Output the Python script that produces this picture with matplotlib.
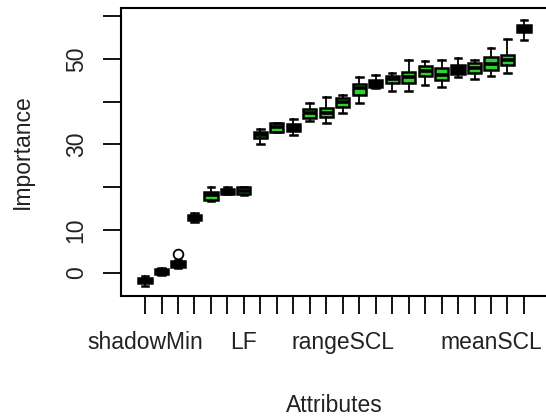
import matplotlib
matplotlib.use("Agg")
import matplotlib.pyplot as plt

# Importance distributions per attribute (sorted by median)
tick_labels = ["shadowMin", "", "", "", "", "", "LF", "", "", "", "", "",
               "rangeSCL", "", "", "", "", "", "", "", "", "meanSCL", "", ""]
q1 = [-2.5, -0.3, 1.4, 12.3, 17.0, 18.4, 18.3, 31.4, 33.0, 33.2, 36.1, 36.3,
      38.8, 41.5, 43.5, 44.3, 44.3, 46.0, 45.0, 46.4, 46.8, 47.4, 48.6, 56.2]
med = [-1.9, 0.2, 2.0, 12.9, 18.2, 18.9, 19.0, 32.2, 34.1, 34.1, 37.3, 37.4,
       40.0, 43.1, 44.4, 45.3, 45.7, 47.2, 46.2, 47.8, 47.9, 48.9, 49.7, 57.1]
q3 = [-1.3, 0.8, 2.8, 13.5, 18.9, 19.6, 20.0, 33.0, 34.9, 34.8, 38.2, 38.4,
      40.8, 44.1, 45.0, 46.0, 47.0, 48.3, 47.9, 48.6, 49.1, 50.5, 50.9, 57.9]
whislo = [-3.1, -0.5, 1.2, 11.8, 16.8, 18.3, 18.2, 30.2, 32.8, 32.3, 35.5, 34.9,
          37.4, 39.7, 43.3, 42.5, 42.5, 44.0, 43.4, 45.7, 45.4, 46.1, 46.8, 54.4]
whishi = [-0.8, 1.0, 3.0, 13.9, 20.1, 20.1, 20.1, 33.6, 35.1, 35.9, 39.7, 41.1,
          41.5, 45.8, 46.2, 46.6, 49.7, 49.5, 49.7, 50.1, 49.7, 52.5, 54.6, 59.2]
outliers = [[], [], [4.3], [], [], [], [], [], [], [], [], [],
            [], [], [], [], [], [], [], [], [], [], [], []]
fill = ["black", "black", "black", "black", "green", "black", "green", "green",
        "green", "black", "green", "green", "green", "green", "black", "green",
        "green", "green", "green", "black", "green", "green", "green", "black"]

GREEN = "#2ed12e"

plt.rcParams["font.family"] = ["Liberation Sans", "DejaVu Sans"]
fig = plt.figure(figsize=(5.46, 4.17), dpi=100)
ax = fig.add_axes([121 / 546, 1 - 296 / 417, 427 / 546, 288 / 417])

stats = []
for i in range(len(med)):
    stats.append(dict(med=med[i], q1=q1[i], q3=q3[i], whislo=whislo[i],
                      whishi=whishi[i], fliers=outliers[i]))
positions = list(range(1, len(med) + 1))
bp = ax.bxp(stats, positions=positions, widths=0.8, patch_artist=True,
            showfliers=True,
            boxprops=dict(edgecolor="black", linewidth=1.8),
            medianprops=dict(color="black", linewidth=2.6),
            whiskerprops=dict(color="black", linewidth=1.3),
            capprops=dict(color="black", linewidth=1.8),
            capwidths=0.4,
            flierprops=dict(marker="o", markerfacecolor="white",
                            markeredgecolor="black", markersize=7,
                            markeredgewidth=1.3))
for patch, c in zip(bp["boxes"], fill):
    patch.set_facecolor(GREEN if c == "green" else "black")

ax.set_xlim(-0.46, 25.46)
ax.set_ylim(-5.45, 61.9)
ax.set_xticks(positions)
ax.set_xticklabels(tick_labels, fontsize=16.5)
ax.set_yticks([0, 10, 20, 30, 40, 50, 60])
ax.set_yticklabels(["0", "10", "", "30", "", "50", ""], fontsize=16.5,
                   rotation=90, va="center")
ax.tick_params(axis="both", length=13, width=1.3, color="black",
               labelcolor="#222222")
ax.tick_params(axis="x", pad=12)
ax.tick_params(axis="y", pad=11)
for s in ax.spines.values():
    s.set_linewidth(1.5)
ax.set_xlabel("Attributes", fontsize=16.5, color="#222222", labelpad=29)
ax.set_ylabel("Importance", fontsize=16.5, color="#222222", labelpad=22)

fig.savefig("out.png", dpi=100)
